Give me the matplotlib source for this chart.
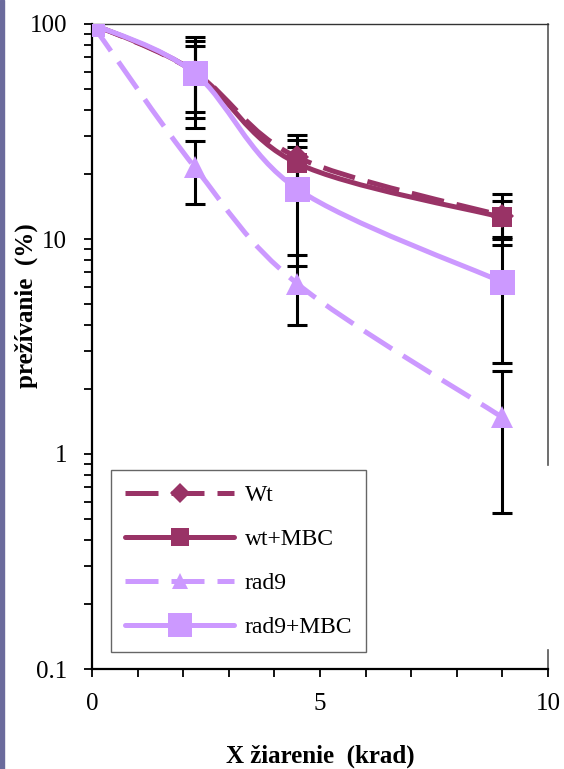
import numpy as np
import matplotlib
matplotlib.use('Agg')
import matplotlib.pyplot as plt
from matplotlib.path import Path
from matplotlib.patches import PathPatch, Rectangle
from matplotlib.lines import Line2D
from matplotlib.ticker import FixedLocator, NullFormatter

plt.rcParams['font.family'] = ['Liberation Serif', 'DejaVu Serif']

# dose (krad)
dose = [0, 2.25, 4.5, 9]

# survival (%) and errors per strain
wt = [100, 60, 24, 12.8]
wt_err = [0, 27, 6.4, 3.4]
wt_mbc = [100, 60, 22.5, 12.6]
wt_mbc_err = [0, 23.5, 6.3, 2.4]
rad9 = [100, 21.6, 6.2, 1.48]
rad9_err = [0, 7.0, 2.2, 0.95]
rad9_mbc = [100, 59, 17.1, 6.3]
rad9_mbc_err = [0, 20, 9.6, 3.66]

labels = ['Wt', 'wt+MBC', 'rad9', 'rad9+MBC']

DARK = '#993366'
LIGHT = '#cc99ff'


def smooth_path(xs, ys):
    # Excel-style smoothed line: cubic Bezier segments in (x, log y)
    lx = np.asarray(xs, float)
    ly = np.log10(ys)
    n = len(lx)
    verts = [(lx[0], ly[0])]
    codes = [Path.MOVETO]
    for i in range(n - 1):
        a = i - 1 if i > 0 else i
        b = i + 2 if i + 2 < n else i + 1
        c1 = (lx[i] + (lx[i + 1] - lx[a]) / 6, ly[i] + (ly[i + 1] - ly[a]) / 6)
        c2 = (lx[i + 1] - (lx[b] - lx[i]) / 6, ly[i + 1] - (ly[b] - ly[i]) / 6)
        verts += [c1, c2, (lx[i + 1], ly[i + 1])]
        codes += [Path.CURVE4] * 3
    v = np.array(verts)
    v[:, 1] = 10 ** v[:, 1]
    return Path(v, codes)


fig = plt.figure(figsize=(5.64, 7.69), dpi=100)
ax = fig.add_axes([92 / 564, 1 - 669 / 769, 456 / 564, 645 / 769])

# thin bar down the left edge of the slide
fig.patches.append(Rectangle((0, 0), 4 / 564, 1, transform=fig.transFigure,
                             color='#6b6b9c', zorder=0))

ax.set_yscale('log')
ax.set_xlim(0, 10)
ax.set_ylim(0.1, 100)

lw = 3.6
dash = (0, (6.6, 2.6))
series = [
    (wt, wt_err, DARK, dash, 'D', 12),
    (wt_mbc, wt_mbc_err, DARK, '-', 's', 14),
    (rad9, rad9_err, LIGHT, dash, '^', 16),
    (rad9_mbc, rad9_mbc_err, LIGHT, '-', 's', 18),
]

for vals, err, col, ls, mk, ms in series:
    ax.errorbar(dose, vals, yerr=err, fmt='none', ecolor='black',
                elinewidth=2.2, capsize=7, capthick=2.2, zorder=2)

handles = []
for k, (vals, err, col, ls, mk, ms) in enumerate(series):
    z = 3 + k
    ax.add_patch(PathPatch(smooth_path(dose, vals), fill=False, edgecolor=col,
                           linewidth=lw, linestyle=ls, capstyle='butt',
                           joinstyle='round', zorder=z))
    ax.plot(dose, vals, linestyle='none', marker=mk, markersize=ms,
            color=col, markeredgewidth=0, zorder=z + 0.5)
    handles.append(Line2D([], [], color=col, linewidth=lw, linestyle=ls,
                          marker=mk, markersize={'D': 10, 's': ms - 1, '^': 12}[mk],
                          markeredgewidth=0, solid_capstyle='round'))

# ticks
ax.xaxis.set_major_locator(FixedLocator([0, 5, 10]))
ax.xaxis.set_minor_locator(FixedLocator(range(0, 11)))
ax.set_xticklabels(['0', '5', '10'])
ax.set_yticks([0.1, 1, 10, 100])
ax.set_yticklabels(['0.1', '1', '10', '100'])
ax.yaxis.set_minor_formatter(NullFormatter())
ax.tick_params(axis='both', which='both', direction='out', length=6,
               width=1.3, color='black', labelsize=18)
ax.tick_params(axis='x', which='both', pad=11)
ax.tick_params(axis='y', which='both', pad=12)

for side in ['left', 'bottom']:
    ax.spines[side].set_linewidth(1.6)
    ax.spines[side].set_color('black')
ax.spines['top'].set_linewidth(1.0)
ax.spines['top'].set_color('#333333')
ax.spines['right'].set_visible(False)
for y0, y1 in [(0.316, 1.0), (0.0, 0.029)]:
    ax.plot([1, 1], [y0, y1], transform=ax.transAxes, color='#555555',
            linewidth=1.2, clip_on=False, zorder=1)

ax.set_xlabel('X žiarenie  (krad)', fontsize=18, fontweight='bold')
ax.xaxis.set_label_coords(0.5, -0.117)
ax.set_ylabel('prežívanie  (%)', fontsize=18, fontweight='bold')
ax.yaxis.set_label_coords(-0.118, 0.563)

leg = ax.legend(handles, labels, loc='lower left',
                bbox_to_anchor=(0.042, 0.026), fontsize=17, frameon=True,
                fancybox=False, handlelength=4.6, handletextpad=0.45,
                labelspacing=0.95, borderpad=0.6, borderaxespad=0)
leg.get_frame().set_edgecolor('#404040')
leg.get_frame().set_linewidth(1.0)
leg.set_zorder(10)

fig.savefig('out.png', dpi=100)
